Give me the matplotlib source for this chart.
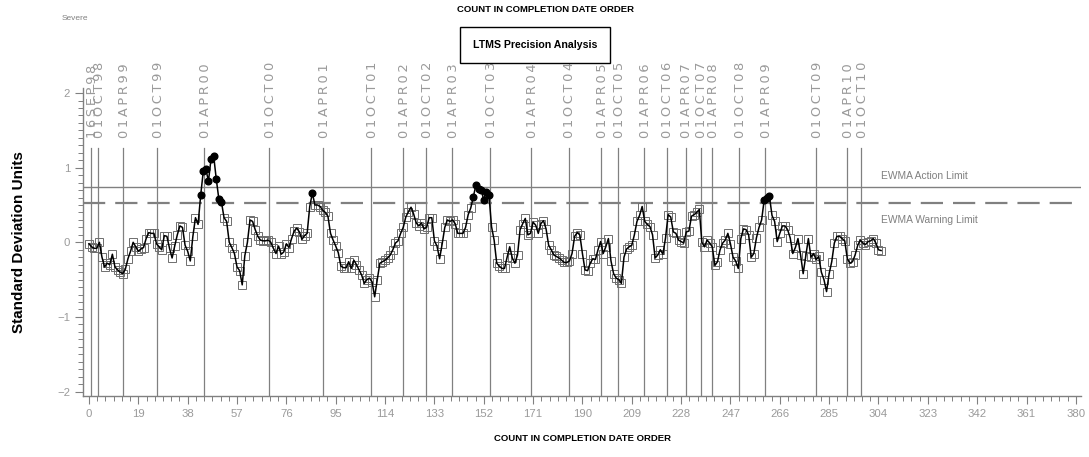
import matplotlib
matplotlib.use("Agg")
import matplotlib.pyplot as plt
import numpy as np
from matplotlib.ticker import MultipleLocator, FixedLocator

# ---------------- data ----------------
ewma = [
    -0.02, -0.06, -0.08, -0.08, 0.00, -0.20, -0.33, -0.28, -0.30, -0.16,
    -0.33, -0.37, -0.40, -0.42, -0.36, -0.22, -0.12, 0.00, -0.06, -0.12,
    -0.09, -0.07, 0.05, 0.13, 0.12, 0.12, -0.02, -0.06, -0.10, 0.09,
    0.08, -0.08, -0.21, -0.05, 0.10, 0.22, 0.20, -0.04, -0.12, -0.25,
    0.08, 0.33, 0.24, 0.63, 0.95, 0.98, 0.82, 1.12, 1.16, 0.85,
    0.58, 0.54, 0.33, 0.28, 0.00, -0.07, -0.15, -0.33, -0.38, -0.57,
    -0.18, 0.00, 0.30, 0.28, 0.17, 0.08, 0.03, 0.02, 0.02, 0.03,
    0.00, -0.08, -0.15, -0.05, -0.16, -0.13, -0.02, -0.07, 0.05, 0.15,
    0.19, 0.14, 0.04, 0.09, 0.12, 0.48, 0.66, 0.50, 0.50, 0.48,
    0.43, 0.40, 0.35, 0.12, 0.03, -0.05, -0.14, -0.32, -0.34, -0.34,
    -0.26, -0.35, -0.24, -0.30, -0.37, -0.44, -0.55, -0.50, -0.48, -0.53,
    -0.73, -0.50, -0.28, -0.26, -0.24, -0.21, -0.17, -0.10, -0.01, 0.02,
    0.12, 0.20, 0.34, 0.41, 0.47, 0.38, 0.26, 0.22, 0.26, 0.18,
    0.20, 0.33, 0.33, 0.02, -0.05, -0.22, -0.02, 0.20, 0.30, 0.28,
    0.30, 0.25, 0.12, 0.12, 0.12, 0.20, 0.37, 0.46, 0.61, 0.77,
    0.72, 0.70, 0.57, 0.68, 0.64, 0.21, 0.03, -0.28, -0.32, -0.35,
    -0.35, -0.20, -0.06, -0.21, -0.28, -0.17, 0.17, 0.25, 0.32, 0.10,
    0.12, 0.27, 0.23, 0.12, 0.25, 0.29, 0.18, -0.04, -0.10, -0.17,
    -0.19, -0.21, -0.24, -0.27, -0.27, -0.25, -0.15, 0.08, 0.13, 0.10,
    -0.15, -0.37, -0.38, -0.28, -0.22, -0.23, -0.10, 0.01, -0.15, -0.06,
    0.05, -0.25, -0.42, -0.48, -0.50, -0.55, -0.20, -0.09, -0.06, -0.04,
    0.10, 0.28, 0.36, 0.48, 0.28, 0.24, 0.21, 0.10, -0.21, -0.17,
    -0.10, -0.16, 0.06, 0.37, 0.34, 0.14, 0.12, 0.03, 0.01, -0.01,
    0.14, 0.15, 0.35, 0.37, 0.40, 0.44, 0.00, -0.06, 0.03, -0.01,
    -0.06, -0.31, -0.26, -0.10, -0.01, 0.03, 0.12, -0.02, -0.20, -0.25,
    -0.35, 0.05, 0.18, 0.17, 0.10, -0.20, -0.15, 0.06, 0.20, 0.30,
    0.57, 0.60, 0.62, 0.36, 0.28, 0.01, 0.12, 0.22, 0.22, 0.17,
    0.06, -0.15, -0.07, 0.05, -0.17, -0.42, -0.18, 0.05, -0.20, -0.15,
    -0.23, -0.19, -0.40, -0.50, -0.66, -0.42, -0.26, -0.01, 0.08, 0.08,
    0.05, 0.02, -0.22, -0.28, -0.26, -0.17, -0.04, 0.03, -0.01, -0.03,
    0.01, 0.02, 0.05, -0.01, -0.10, -0.11,
]
action_limit = 0.745
warning_limit = 0.53

date_labels = ['16SEP98', '01OCT98', '01APR99', '01OCT99', '01APR00', '01OCT00',
               '01APR01', '01OCT01', '01APR02', '01OCT02', '01APR03', '01OCT03',
               '01APR04', '01OCT04', '01APR05', '01OCT05', '01APR06', '01OCT06',
               '01APR07', '01OCT07', '01APR08', '01OCT08', '01APR09', '01OCT09',
               '01APR10', '01OCT10']
date_pos = [0.8, 3.4, 13.0, 26.1, 44.4, 69.4, 90.2, 108.6, 121.0, 129.7, 139.7,
            154.5, 170.2, 184.7, 197.3, 203.8, 213.7, 222.4, 229.7, 235.5, 239.8,
            250.2, 260.4, 279.9, 291.8, 297.4]

x_ticks = [0, 19, 38, 57, 76, 95, 114, 133, 152, 171, 190, 209, 228, 247, 266,
           285, 304, 323, 342, 361, 380]
y_ticks = [-2, -1, 0, 1, 2]

# ---------------- figure ----------------
GRAY = '#808080'
LGRAY = '#9a9a9a'
SANS = ['Liberation Sans Narrow', 'Liberation Sans', 'DejaVu Sans']

fig = plt.figure(figsize=(10.89, 4.57), dpi=100)
ax = fig.add_axes([0.0765, 0.1341, 0.9162, 0.6733])

y = np.array(ewma)
x = np.arange(len(y))

ax.set_xlim(-2.19, 382.0)
ax.set_ylim(-2.056, 2.068)

# date reference lines (letter-spaced labels like the original)
for p, lab in zip(date_pos, date_labels):
    ax.plot([p, p], [-2.056, 1.26], color=GRAY, lw=0.9, zorder=1)
    ax.text(p + 0.5, 1.40, '\u2009'.join(lab), rotation=90, ha='center',
            va='bottom', fontsize=9.4, color=LGRAY, family='DejaVu Sans',
            clip_on=False)

# limits
ax.axhline(action_limit, color=GRAY, lw=1.0, zorder=1)
ax.axhline(warning_limit, color=GRAY, lw=1.6, ls=(0, (10, 4.5)), zorder=1)
ax.text(305, 0.89, 'EWMA Action Limit', fontsize=7.4, color=GRAY,
        family=SANS, va='center', ha='left')
ax.text(305, 0.30, 'EWMA Warning Limit', fontsize=7.4, color=GRAY,
        family=SANS, va='center', ha='left')

# series
ax.plot(x, y, color='black', lw=1.1, zorder=3)
above = y > warning_limit
ax.plot(x[~above], y[~above], ls='none', marker='s', ms=5.2, mfc='none',
        mec='#6e6e6e', mew=0.7, zorder=2)
ax.plot(x[above], y[above], ls='none', marker='o', ms=4.8, mfc='black',
        mec='black', zorder=4)

# axes styling
for s in ['top', 'right']:
    ax.spines[s].set_visible(False)
for s in ['left', 'bottom']:
    ax.spines[s].set_color(GRAY)
    ax.spines[s].set_linewidth(1.0)

ax.xaxis.set_major_locator(FixedLocator(x_ticks))
ax.xaxis.set_minor_locator(MultipleLocator(19 / 6))
ax.yaxis.set_major_locator(FixedLocator(y_ticks))
ax.yaxis.set_minor_locator(MultipleLocator(0.1))
ax.tick_params(axis='both', which='major', length=6, width=0.8, color=GRAY,
               labelcolor=LGRAY, labelsize=8.2)
ax.tick_params(axis='both', which='minor', length=3.5, width=0.7, color=GRAY)
ax.set_xticklabels([str(t) for t in x_ticks], family=SANS)
ax.set_yticklabels(['\u22122', '\u22121', '0', '1', '2'], family=SANS)

ax.set_ylabel('Standard Deviation Units', fontsize=11, fontweight='bold',
              family=['Liberation Sans', 'DejaVu Sans'])
ax.yaxis.set_label_coords(-0.057, 0.5)
ax.set_xlabel('COUNT IN COMPLETION DATE ORDER', fontsize=6.8, fontweight='bold',
              family=SANS, labelpad=11)

# top texts
fig.text(0.5005, 0.988, 'COUNT IN COMPLETION DATE ORDER', fontsize=6.8,
         fontweight='bold', family=SANS, ha='center', va='top')
fig.text(0.057, 0.96, 'Severe', fontsize=6, color=GRAY, family=SANS,
         ha='left', va='center')
fig.text(0.4913, 0.9015, 'LTMS Precision Analysis', fontsize=7.6,
         fontweight='bold', family=SANS, ha='center', va='center',
         bbox=dict(boxstyle='square,pad=1.2', fc='white', ec='black', lw=1.0))

fig.savefig('out.png', dpi=100)
